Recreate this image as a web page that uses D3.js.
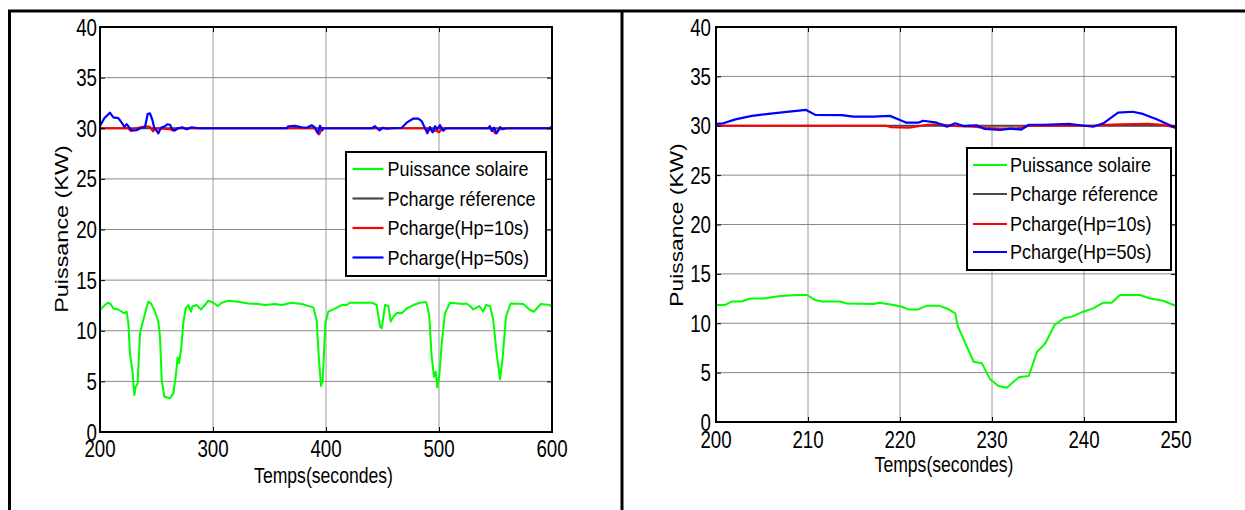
<!DOCTYPE html>
<html>
<head>
<meta charset="utf-8">
<script src="https://cdn.jsdelivr.net/npm/d3@7/dist/d3.min.js"></script>
<style>
  html, body { margin: 0; padding: 0; background: #fff; }
  svg { display: block; }
  text { font-family: "Liberation Sans", Arial, sans-serif; fill: #000; }
</style>
</head>
<body>
<svg id="chart" width="1245" height="510"></svg>
<script>
// ---------- data ----------
const yTicks = [0, 5, 10, 15, 20, 25, 30, 35, 40];
const leftXTicks = [200, 300, 400, 500, 600];
const rightXTicks = [200, 210, 220, 230, 240, 250];
const legendLabels = ["Puissance solaire", "Pcharge réference", "Pcharge(Hp=10s)", "Pcharge(Hp=50s)"];
const xLabel = "Temps(secondes)";
const yLabel = "Puissance (KW)";

// left panel (200-600 s)
const leftSolar = [[200,11.98],[202,12.3],[205,12.6],[207.4,12.77],[209.7,12.6],[211.8,12.2],[216.2,12.1],[219.2,11.88],[221.5,11.72],[223.6,11.88],[225.1,10.73],[226.5,7.77],[228.6,6.12],[230.4,3.65],[231.6,4.47],[233.3,4.8],[235.4,9.75],[238.3,11.06],[242.7,12.87],[245.1,12.7],[248.7,11.88],[251.6,10.9],[253.1,9.41],[254.6,5.14],[256.9,3.49],[261.9,3.33],[264.9,3.82],[267,5.46],[268.7,7.37],[269.9,6.78],[271.7,8.1],[273.7,10.73],[275.8,12.2],[278.2,12.54],[280.5,11.88],[281.7,12.4],[285.5,12.54],[289.4,12.1],[292.9,12.54],[295.9,12.97],[300.3,12.77],[304.2,12.44],[307.7,12.77],[313.6,12.97],[322.4,12.87],[331.3,12.7],[340.2,12.64],[346,12.54],[354.9,12.64],[360.8,12.54],[369.6,12.77],[378.5,12.64],[388.8,12.31],[391.7,11.06],[393.8,7.1],[395.6,4.54],[397.1,5.14],[398.5,8.5],[399.5,10.73],[402,11.88],[406.5,12.11],[413.9,12.54],[418.3,12.54],[421.2,12.77],[440.4,12.77],[444.9,12.54],[447.8,10.4],[449.3,10.24],[451.3,11.72],[452.2,12.54],[455.2,12.44],[457.3,10.9],[459.6,11.39],[463.1,11.78],[467,11.72],[471.4,12.2],[477.3,12.54],[483.2,12.77],[488.5,12.84],[489.7,12.4],[491.4,11.39],[493.5,7.44],[495.6,5.46],[497.1,5.96],[498.5,4.41],[500.3,5.6],[502.4,8.76],[505.3,11.72],[509.7,12.77],[521.5,12.64],[524.5,12.7],[527.4,12.44],[530.4,12.1],[535.7,12.44],[539.2,11.88],[541.6,12.54],[545.1,12.44],[548,11.06],[551,7.77],[554,5.2],[556.4,7.44],[559.3,11.39],[563.4,12.7],[574.6,12.64],[580.5,12.05],[584.1,11.88],[590,12.64],[598.2,12.54],[600,12.3]];
const leftRef = [[200,30],[600,30]];
const leftHp10 = [[200,30],[225,30],[227,29.75],[230,29.9],[232,30],[240,30.2],[244,30.15],[247,29.7],[249,30],[262,29.9],[265,29.75],[268,30],[390,30],[392,29.7],[394,29.4],[395.5,29.8],[397,30],[488,30],[490,29.7],[492,30.1],[494,29.65],[497,29.8],[500,29.6],[503,30],[546,30],[548,29.7],[550,29.5],[553,29.85],[556,30],[600,30]];
const leftHp50 = [[200,30.22],[203.8,30.98],[208.8,31.54],[211.8,31.08],[216.2,31.0],[219.2,30.55],[221.5,30.15],[223.6,30.4],[228,29.76],[232.4,29.8],[235.4,30.0],[239.8,30.1],[242.2,31.41],[244.2,31.47],[246.3,30.84],[248.1,30.0],[250.1,29.77],[251.6,29.5],[254,30.05],[257.5,30.2],[259.9,30.4],[261.9,30.35],[264,29.9],[266.4,29.8],[269.3,30.0],[272.8,30.1],[276.7,29.9],[281.1,30.1],[287,30.0],[365.2,30.0],[366.7,30.2],[372.6,30.24],[378.5,30.1],[382.9,30.05],[387.3,30.3],[390.3,30.05],[392.7,29.5],[394.7,30.25],[396.7,29.8],[397.6,30.0],[440.4,30.0],[443.4,30.2],[447.2,29.8],[450.2,30.05],[453.7,29.95],[458.1,30.0],[467,30.05],[471.4,30.55],[477.3,30.96],[481.7,30.96],[484.7,30.7],[487.6,30.0],[489.7,29.5],[492,30.1],[494.4,29.6],[496.5,30.2],[498.5,29.9],[500.9,30.3],[503.8,29.75],[506.2,30.0],[543.6,30.0],[545,30.2],[546.6,29.75],[548.7,30.05],[551,29.5],[554,30.1],[556.4,29.9],[559.9,30.0],[598.2,30.0],[600,30.2]];

// right panel (200-250 s)
const rightSolar = [[200,11.85],[201,11.85],[201.7,12.2],[202.8,12.2],[203.7,12.5],[205.2,12.5],[207,12.75],[208.8,12.86],[209.9,12.86],[210.8,12.35],[211.5,12.2],[213.5,12.2],[214.2,12.0],[217.1,11.95],[217.8,12.08],[219.3,11.85],[220.2,11.67],[220.9,11.4],[222,11.4],[222.9,11.78],[224.2,11.78],[225.1,11.5],[226,11.0],[226.3,9.65],[228,6.1],[228.9,5.94],[229.8,4.32],[230.7,3.65],[231.6,3.47],[232.9,4.52],[234,4.66],[234.9,7.12],[235.8,7.97],[236.8,9.82],[237.8,10.5],[238.7,10.67],[239.9,11.17],[241,11.51],[242.1,12.08],[243,12.08],[243.9,12.86],[246.1,12.86],[247.2,12.5],[248.6,12.28],[250,11.75]];
const rightRef = [[200,30],[250,30]];
const rightHp10 = [[200,30],[218.5,30],[219,29.85],[221,29.8],[222,29.95],[223,30.1],[224.5,30.15],[225.5,30.0],[226.5,29.95],[228,29.9],[229.5,29.75],[231,29.7],[233,29.75],[234,30.0],[241,30.0],[242.5,30.1],[244,30.15],[247,30.2],[248.5,30.1],[250,29.8]];
const rightHp50 = [[200,30.18],[200.8,30.25],[202.1,30.65],[203.9,31.0],[205.7,31.2],[207.7,31.4],[209.8,31.6],[210.8,31.1],[213.7,31.07],[214.9,30.92],[217.1,30.92],[218.9,31.0],[220,30.58],[220.7,30.31],[222,30.31],[222.5,30.51],[224,30.31],[225.1,29.9],[226,30.25],[226.9,29.97],[228.3,30.04],[229.2,29.67],[230.9,29.57],[232,29.7],[233.2,29.6],[234,30.1],[235.6,30.1],[238.5,30.18],[241,29.9],[242.1,30.25],[243.7,31.32],[245.3,31.42],[246.4,31.2],[247.9,30.65],[250,29.77]];

const seriesColors = ["#00ff00", "#4a4a4a", "#ff0000", "#0000ff"];

// ---------- drawing ----------
const svg = d3.select("#chart");
const FONT_SX = 0.78;

// table frame
svg.append("line").attr("x1", 8).attr("x2", 1245).attr("y1", 11).attr("y2", 11).attr("stroke", "#000").attr("stroke-width", 3);
svg.append("line").attr("x1", 9.5).attr("x2", 9.5).attr("y1", 10).attr("y2", 510).attr("stroke", "#000").attr("stroke-width", 3);
svg.append("line").attr("x1", 622).attr("x2", 622).attr("y1", 10).attr("y2", 510).attr("stroke", "#000").attr("stroke-width", 3);

function sText(g, x, y, str, size, anchor, sx) {
  return g.append("text")
    .attr("transform", `translate(${x},${y}) scale(${sx},1)`)
    .attr("text-anchor", anchor)
    .attr("font-size", size)
    .text(str);
}

function panel(cfg) {
  const g = svg.append("g");
  const x = d3.scaleLinear().domain(cfg.xDomain).range([cfg.left, cfg.right]);
  const y = d3.scaleLinear().domain([0, 40]).range([cfg.bottom, cfg.top]);
  const clipId = "clip" + cfg.id;
  svg.append("clipPath").attr("id", clipId).append("rect")
    .attr("x", cfg.left).attr("y", cfg.top - 2).attr("width", cfg.right - cfg.left + 1).attr("height", cfg.bottom - cfg.top + 4);

  // grid
  g.append("g").selectAll("line").data(cfg.xTicks.slice(1, -1)).join("line")
    .attr("x1", d => x(d)).attr("x2", d => x(d)).attr("y1", cfg.top).attr("y2", cfg.bottom)
    .attr("stroke", "#9a9a9a").attr("stroke-width", 1);
  g.append("g").selectAll("line").data(yTicks.slice(1, -1)).join("line")
    .attr("x1", cfg.left).attr("x2", cfg.right).attr("y1", d => y(d)).attr("y2", d => y(d))
    .attr("stroke", "#8a8a8a").attr("stroke-width", 1);

  // series
  const line = d3.line().x(d => x(d[0])).y(d => y(d[1]));
  const dg = g.append("g").attr("clip-path", `url(#${clipId})`);
  const widths = [2, 2, 2.2, 2.2];
  cfg.series.forEach((s, i) => {
    dg.append("path").datum(s).attr("d", line).attr("fill", "none")
      .attr("stroke", seriesColors[i]).attr("stroke-width", widths[i]).attr("stroke-linejoin", "round");
  });

  // axes via d3
  const axB = g.append("g").attr("transform", `translate(0,${cfg.bottom})`)
    .call(d3.axisBottom(x).tickValues(cfg.xTicks).tickSize(-5).tickFormat(""));
  const axT = g.append("g").attr("transform", `translate(0,${cfg.top})`)
    .call(d3.axisTop(x).tickValues(cfg.xTicks).tickSize(-5).tickFormat(""));
  const axL = g.append("g").attr("transform", `translate(${cfg.left},0)`)
    .call(d3.axisLeft(y).tickValues(yTicks).tickSize(-5).tickFormat(""));
  const axR = g.append("g").attr("transform", `translate(${cfg.right},0)`)
    .call(d3.axisRight(y).tickValues(yTicks).tickSize(-5).tickFormat(""));
  [axB, axT, axL, axR].forEach(a => {
    a.selectAll(".domain").remove();
    a.selectAll("line").attr("stroke", "#000").attr("stroke-width", 1);
  });
  g.append("rect").attr("x", cfg.left).attr("y", cfg.top)
    .attr("width", cfg.right - cfg.left).attr("height", cfg.bottom - cfg.top)
    .attr("fill", "none").attr("stroke", "#000").attr("stroke-width", 2);

  // tick labels
  cfg.xTicks.forEach(t => sText(g, x(t), cfg.xLabelBase, String(t), 24, "middle", FONT_SX));
  yTicks.forEach(t => sText(g, cfg.left - cfg.yLabelGap, y(t) + 8.5, String(t), 24, "end", FONT_SX));

  // axis titles
  sText(g, cfg.xTitleX, cfg.xTitleBase, xLabel, 22, "middle", 0.8);
  g.append("text")
    .attr("transform", `translate(${cfg.yTitleX},${cfg.yTitleY}) scale(${FONT_SX},1) rotate(-90)`)
    .attr("text-anchor", "middle").attr("font-size", cfg.yTitleSize).text(yLabel);

  // legend
  const L = cfg.legend;
  const lg = g.append("g");
  lg.append("rect").attr("x", L.x).attr("y", L.y).attr("width", L.w).attr("height", L.h)
    .attr("fill", "#fff").attr("stroke", "#000").attr("stroke-width", 2);
  legendLabels.forEach((lab, i) => {
    const cy = L.y + L.rows[i];
    lg.append("line").attr("x1", L.lx1).attr("x2", L.lx2).attr("y1", cy).attr("y2", cy)
      .attr("stroke", seriesColors[i]).attr("stroke-width", 2.2);
    sText(lg, L.tx, cy + 7, lab, 20, "start", 0.9);
  });
}

panel({
  id: "L", xDomain: [200, 600], xTicks: leftXTicks,
  left: 100, right: 552, top: 27, bottom: 432,
  xLabelBase: 457, yLabelGap: 3,
  xTitleX: 323.5, xTitleBase: 483,
  yTitleX: 68, yTitleY: 229, yTitleSize: 23.4,
  series: [leftSolar, leftRef, leftHp10, leftHp50],
  legend: { x: 346, y: 152, w: 200, h: 124, rows: [17, 46.5, 76, 105.5], lx1: 352.5, lx2: 383.5, tx: 387.5 }
});

panel({
  id: "R", xDomain: [200, 250], xTicks: rightXTicks,
  left: 716, right: 1176, top: 27, bottom: 422,
  xLabelBase: 448, yLabelGap: 5,
  xTitleX: 944, xTitleBase: 472,
  yTitleX: 683, yTitleY: 225, yTitleSize: 22.8,
  series: [rightSolar, rightRef, rightHp10, rightHp50],
  legend: { x: 967, y: 148, w: 204, h: 122, rows: [17, 46, 76, 104], lx1: 973, lx2: 1007, tx: 1010 }
});
</script>
</body>
</html>
